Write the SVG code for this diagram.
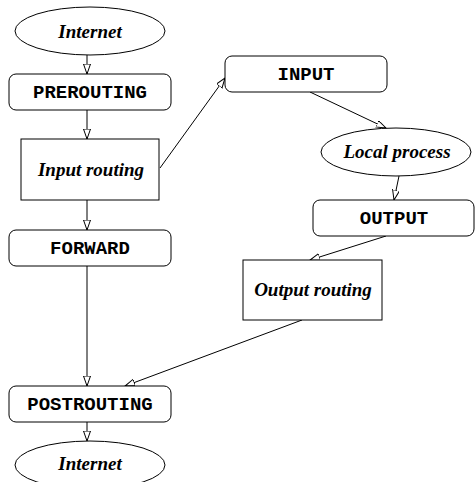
<svg xmlns="http://www.w3.org/2000/svg" width="475" height="482" viewBox="0 0 475 482">
  <style>
    .shape { fill: #ffffff; stroke: #000000; stroke-width: 1; }
    .mono { font-family: "Liberation Mono", "Courier New", monospace; font-weight: bold; font-size: 19px; text-anchor: middle; fill: #000000; }
    .serif { font-family: "Liberation Serif", "Times New Roman", serif; font-weight: bold; font-style: italic; font-size: 19px; text-anchor: middle; fill: #000000; }
    .edge { fill: none; stroke: #000000; stroke-width: 1; marker-end: url(#arrow); }
  </style>
  <defs>
    <marker id="arrow" markerUnits="userSpaceOnUse" markerWidth="12" markerHeight="8" refX="10" refY="3.5" orient="auto">
      <path d="M0,0 L10,3.5 L0,7 Z" fill="#ffffff" stroke="#000000" stroke-width="1"/>
    </marker>
  </defs>

  <g id="connectors">
    <line class="edge" x1="87" y1="55" x2="87" y2="74"/>
    <line class="edge" x1="87" y1="110" x2="87" y2="139"/>
    <line class="edge" x1="87" y1="200" x2="87" y2="230"/>
    <line class="edge" x1="87" y1="266" x2="87" y2="386"/>
    <line class="edge" x1="87" y1="422" x2="87" y2="441"/>
    <line class="edge" x1="160" y1="168" x2="225" y2="78"/>
    <line class="edge" x1="310" y1="92" x2="386" y2="128"/>
    <line class="edge" x1="399" y1="176" x2="394" y2="200"/>
    <line class="edge" x1="386" y1="236" x2="310" y2="260"/>
    <line class="edge" x1="302" y1="320" x2="125" y2="386"/>
  </g>

  <g id="internet-in">
    <ellipse class="shape" cx="90" cy="31" rx="75" ry="24"/>
    <text class="serif" x="90" y="38">Internet</text>
  </g>
  <g id="prerouting">
    <rect class="shape" x="9" y="74" width="162" height="36" rx="7"/>
    <text class="mono" x="90" y="98">PREROUTING</text>
  </g>
  <g id="input-routing">
    <rect class="shape" x="21" y="139" width="138" height="61"/>
    <text class="serif" x="91" y="176">Input routing</text>
  </g>
  <g id="forward">
    <rect class="shape" x="9" y="230" width="162" height="36" rx="7"/>
    <text class="mono" x="90" y="254">FORWARD</text>
  </g>
  <g id="postrouting">
    <rect class="shape" x="9" y="386" width="162" height="36" rx="7"/>
    <text class="mono" x="90" y="410">POSTROUTING</text>
  </g>
  <g id="internet-out">
    <ellipse class="shape" cx="90" cy="465" rx="75" ry="24"/>
    <text class="serif" x="90" y="470">Internet</text>
  </g>
  <g id="input">
    <rect class="shape" x="225" y="56" width="162" height="36" rx="7"/>
    <text class="mono" x="306" y="80">INPUT</text>
  </g>
  <g id="local-process">
    <ellipse class="shape" cx="396" cy="152" rx="75" ry="24"/>
    <text class="serif" x="397" y="158">Local process</text>
  </g>
  <g id="output">
    <rect class="shape" x="313" y="200" width="161" height="36" rx="7"/>
    <text class="mono" x="394" y="224">OUTPUT</text>
  </g>
  <g id="output-routing">
    <rect class="shape" x="243" y="260" width="139" height="60"/>
    <text class="serif" x="313" y="296">Output routing</text>
  </g>
</svg>
